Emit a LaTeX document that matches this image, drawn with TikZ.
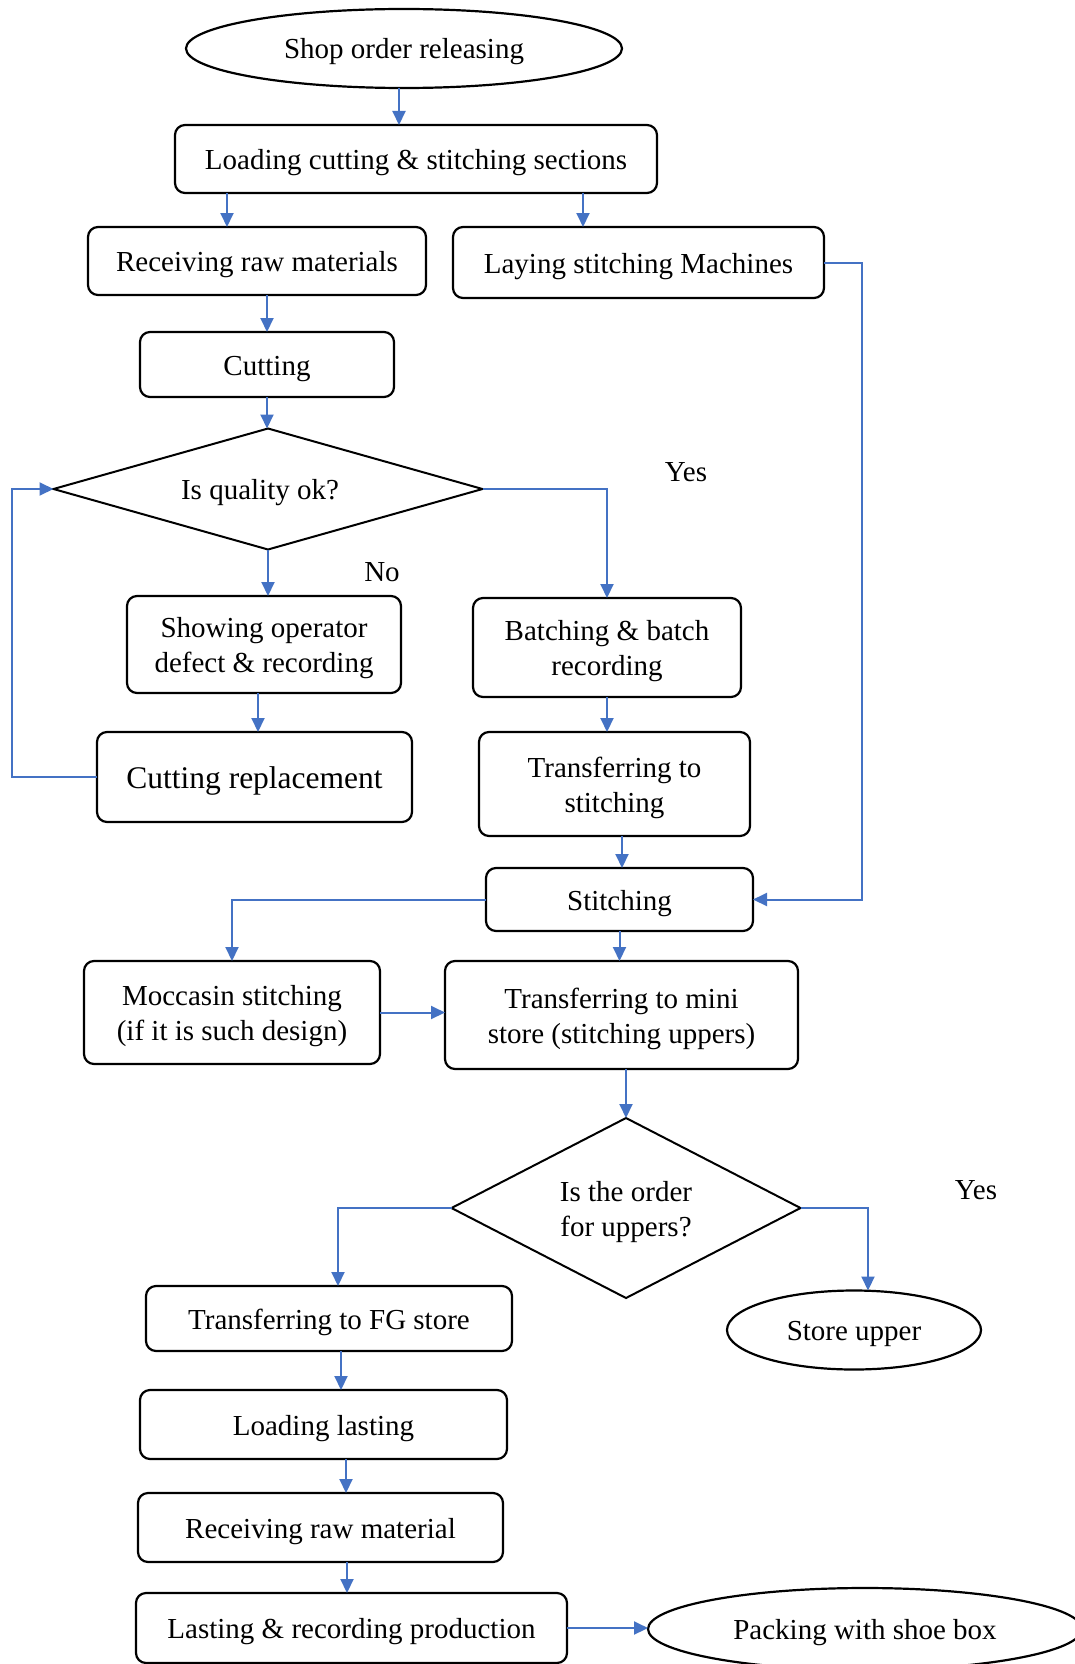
\documentclass[tikz,border=0pt]{standalone}
\usepackage{fontspec}
\setmainfont{Liberation Serif}
\usetikzlibrary{shapes.geometric,arrows.meta}
\definecolor{flowblue}{HTML}{4472C4}
% centred one- or two-line label, drawn a little below the shape's centre
\newcommand\flowtext[1]{\raisebox{-3.5pt}[\height][\depth]{\begin{tabular}{@{}c@{}}#1\end{tabular}}}
\begin{document}
\begin{tikzpicture}[x=1pt,y=-1pt,
  every node/.style={font=\fontsize{29}{35}\selectfont, inner sep=0pt, outer sep=0pt},
  procbox/.style={draw=black, line width=2.2pt, rounded corners=10pt, rectangle},
  termnode/.style={draw=black, line width=2.2pt, ellipse},
  decision/.style={draw=black, line width=2pt, diamond},
  flow/.style={draw=flowblue, line width=2pt, -{Triangle[length=14pt,width=13pt]}}]
\useasboundingbox (0,0) rectangle (1074,1664);
\fill[white] (0,0) rectangle (1074,1664);

% ---- nodes ----
\node[termnode, minimum width=436pt, minimum height=79pt] (shop) at (404,48.5) {\flowtext{Shop order releasing}};
\node[procbox, minimum width=482pt, minimum height=68pt] (load) at (416,159) {\flowtext{Loading cutting \& stitching sections}};
\node[procbox, minimum width=338pt, minimum height=68pt] (recv) at (257,261) {\flowtext{Receiving raw materials}};
\node[procbox, minimum width=371pt, minimum height=71pt] (lay) at (638.5,262.5) {\flowtext{Laying stitching Machines}};
\node[procbox, minimum width=254pt, minimum height=65pt] (cut) at (267,364.5) {\flowtext{Cutting}};
\node[decision, aspect=3.5, minimum width=429pt, minimum height=121pt] (qok) at (268,489) {\flowtext{Is quality ok?\hspace*{16pt}}};
\node[procbox, minimum width=274pt, minimum height=97pt] (show) at (264,644.5) {\flowtext{Showing operator\\defect \& recording}};
\node[procbox, minimum width=268pt, minimum height=99pt] (batch) at (607,647.5) {\flowtext{Batching \& batch\\recording}};
\node[procbox, minimum width=315pt, minimum height=90pt, font=\fontsize{31.5}{38}\selectfont] (crep) at (254.5,777) {\flowtext{Cutting replacement}};
\node[procbox, minimum width=271pt, minimum height=104pt] (tstitch) at (614.5,784) {\flowtext{Transferring to\\stitching}};
\node[procbox, minimum width=267pt, minimum height=63pt] (stitch) at (619.5,899.5) {\flowtext{Stitching}};
\node[procbox, minimum width=296pt, minimum height=103pt] (mocc) at (232,1012.5) {\flowtext{Moccasin stitching\\(if it is such design)}};
\node[procbox, minimum width=353pt, minimum height=108pt] (mini) at (621.5,1015) {\flowtext{Transferring to mini\\store (stitching uppers)}};
\node[decision, aspect=2, minimum width=349pt, minimum height=180pt] (upq) at (626,1208) {\flowtext{Is the order\\for uppers?}};
\node[procbox, minimum width=366pt, minimum height=65pt] (fg) at (329,1318.5) {\flowtext{Transferring to FG store}};
\node[termnode, minimum width=254pt, minimum height=79pt] (store) at (854,1330) {\flowtext{Store upper}};
\node[procbox, minimum width=367pt, minimum height=69pt] (lload) at (323.5,1424.5) {\flowtext{Loading lasting}};
\node[procbox, minimum width=365pt, minimum height=69pt] (rrm) at (320.5,1527.5) {\flowtext{Receiving raw material}};
\node[procbox, minimum width=431pt, minimum height=70pt] (lrp) at (351.5,1628) {\flowtext{Lasting \& recording production}};
\node[termnode, minimum width=434pt, minimum height=82pt] (pack) at (865,1629) {\flowtext{Packing with shoe box}};

% ---- branch labels ----
\node (yes1) at (686,471) {\flowtext{Yes}};
\node (no1) at (382,571) {\flowtext{No}};
\node (yes2) at (976,1189) {\flowtext{Yes}};

% ---- helper points for offset connectors ----
\coordinate (s1) at ([xshift=-5pt]shop.south);
\coordinate (l1) at ([xshift=-189pt]load.south);
\coordinate (l2) at ([xshift=167pt]load.south);
\coordinate (r1) at ([xshift=10pt]recv.south);
\coordinate (sh1) at ([xshift=-6pt]show.south);
\coordinate (ts1) at ([xshift=7.5pt]tstitch.south);
\coordinate (fg1) at ([xshift=12pt]fg.south);
\coordinate (ll1) at ([xshift=22.5pt]lload.south);
\coordinate (rr1) at ([xshift=26.5pt]rrm.south);

% ---- connectors ----
\draw[flow] (s1) -- (s1 |- load.north);
\draw[flow] (l1) -- (l1 |- recv.north);
\draw[flow] (l2) -- (l2 |- lay.north);
\draw[flow] (r1) -- (r1 |- cut.north);
\draw[flow] (cut.south) -- (cut.south |- qok.north);
\draw[flow] (qok.south) -- (qok.south |- show.north);
\draw[flow] (qok.east) -| (batch.north);
\draw[flow] (sh1) -- (sh1 |- crep.north);
\draw[flow] (crep.west) -- ++(-85,0) |- (qok.west);
\draw[flow] (batch.south) -- (batch.south |- tstitch.north);
\draw[flow] (ts1) -- (ts1 |- stitch.north);
\draw[flow] (lay.east) -- ++(38,0) |- (stitch.east);
\draw[flow] (stitch.west) -| (mocc.north);
\draw[flow] (stitch.south) -- (stitch.south |- mini.north);
\draw[flow] (mocc.east) -- (mocc.east -| mini.west);
\draw[flow] (upq.north |- mini.south) -- (upq.north);
\draw[flow] (upq.west) -| ([xshift=9pt]fg.north);
\draw[flow] (upq.east) -| ([xshift=14pt]store.north);
\draw[flow] (fg1) -- (fg1 |- lload.north);
\draw[flow] (ll1) -- (ll1 |- rrm.north);
\draw[flow] (rr1) -- (rr1 |- lrp.north);
\draw[flow] (lrp.east) -- (lrp.east -| pack.west);
\end{tikzpicture}
\end{document}
